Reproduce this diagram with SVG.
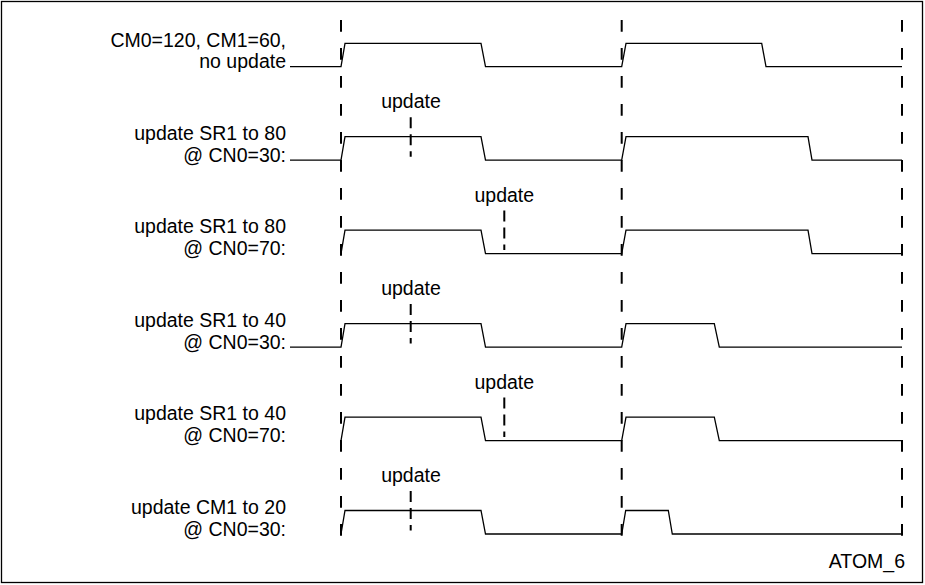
<svg xmlns="http://www.w3.org/2000/svg" width="925" height="585" viewBox="0 0 925 585">
<style>
text{font-family:"Liberation Sans",Arial,sans-serif;font-size:19.5px;fill:#000}
.lbl{text-anchor:end}
.upd{text-anchor:middle}
.wave{fill:none;stroke:#000;stroke-width:1.3;stroke-linejoin:miter}
.grid{stroke:#000;stroke-width:2;stroke-dasharray:11.7 16.3;fill:none}
.mark{stroke:#000;stroke-width:2;stroke-dasharray:11 6;fill:none}
</style>
<rect x="1.5" y="1.5" width="921" height="581" fill="#fff" stroke="#000" stroke-width="1.3"/>
<g id="grid">
<line class="grid" x1="341" y1="20" x2="341" y2="535.7"/>
<line class="grid" x1="621.7" y1="20" x2="621.7" y2="535.7"/>
<line class="grid" x1="902" y1="20" x2="902" y2="535.7"/>
</g>
<g id="row1">
<text class="lbl" x="286" y="46.5">CM0=120, CM1=60,</text>
<text class="lbl" x="286" y="68.2">no update</text>
<path class="wave" d="M290,66.7 H341 L345,43.3 H481 L485.5,66.7 H621.7 L626,43.3 H761.7 L766,66.7 H902"/>
</g>
<g id="row2">
<text class="lbl" x="286" y="139.7">update SR1 to 80</text>
<text class="lbl" x="286" y="161.7">@ CN0=30:</text>
<path class="wave" d="M290,160.2 H341 L345,136.7 H481 L485.5,160.2 H621.7 L626,136.7 H808 L812,160.2 H902"/>
<text class="upd" x="411" y="108.2">update</text>
<line class="mark" x1="410.7" y1="117.2" x2="410.7" y2="156.7"/>
</g>
<g id="row3">
<text class="lbl" x="286" y="233.1">update SR1 to 80</text>
<text class="lbl" x="286" y="255.1">@ CN0=70:</text>
<path class="wave" d="M341,253.6 L345,230.1 H481 L485.5,253.6 H621.7 L626,230.1 H808 L812,253.6 H902"/>
<text class="upd" x="504.3" y="201.6">update</text>
<line class="mark" x1="504.3" y1="210.6" x2="504.3" y2="250.1"/>
</g>
<g id="row4">
<text class="lbl" x="286" y="326.6">update SR1 to 40</text>
<text class="lbl" x="286" y="348.6">@ CN0=30:</text>
<path class="wave" d="M290,347.1 H341 L345,323.6 H481 L485.5,347.1 H621.7 L626,323.6 H714.3 L719.3,347.1 H902"/>
<text class="upd" x="411" y="295.1">update</text>
<line class="mark" x1="410.7" y1="304.1" x2="410.7" y2="343.6"/>
</g>
<g id="row5">
<text class="lbl" x="286" y="420.1">update SR1 to 40</text>
<text class="lbl" x="286" y="442.1">@ CN0=70:</text>
<path class="wave" d="M341,440.6 L345,417.1 H481 L485.5,440.6 H621.7 L626,417.1 H714.3 L719.3,440.6 H902"/>
<text class="upd" x="504.3" y="388.6">update</text>
<line class="mark" x1="504.3" y1="397.6" x2="504.3" y2="437.1"/>
</g>
<g id="row6">
<text class="lbl" x="286" y="513.5">update CM1 to 20</text>
<text class="lbl" x="286" y="535.5">@ CN0=30:</text>
<path class="wave" d="M341,534 L345,510.5 H481 L485.5,534 H621.7 L625.7,510.5 H668.3 L672.3,534 H902"/>
<text class="upd" x="411" y="482">update</text>
<line class="mark" x1="410.7" y1="491" x2="410.7" y2="530.5"/>
</g>
<text x="905" y="568" text-anchor="end">ATOM_6</text>
</svg>
